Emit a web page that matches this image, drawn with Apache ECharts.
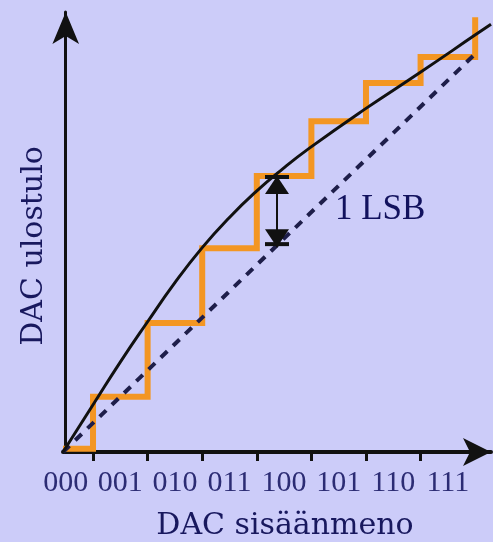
<!DOCTYPE html>
<html><head><meta charset="utf-8">
<script src="https://cdn.jsdelivr.net/npm/echarts@6/dist/echarts.min.js"></script>
<style>html,body{margin:0;padding:0;background:#ccccf9}#c{width:493px;height:542px}</style>
</head><body><div id="c"></div>
<script>
// x axis: input codes (code i sits at value i, transitions at i+0.5)
const codeLabels = ['000','001','010','011','100','101','110','111'];
const codePositions = [0,1,2,3,4,5,6,7];
const tickPositions = [0.5,1.5,2.5,3.5,4.5,5.5,6.5];
// actual (non-linear) DAC staircase output
const stepX = [-0.05,0.5,1.5,2.5,3.5,4.5,5.5,6.5,7.5];
const stepY = [0.06,1.04,2.43,3.84,5.20,6.23,6.95,7.44,8.19];
// smooth non-linear transfer curve
const curveX = [-0.05,0.50,0.99,1.49,2.00,2.50,2.99,3.49,3.98,4.47,5.48,6.49,7.49,7.79];
const curveY = [0.00,0.89,1.68,2.44,3.19,3.85,4.41,4.91,5.34,5.73,6.46,7.15,7.85,8.06];
// ideal linear transfer (dashed)
const idealX = [-0.05,7.5];
const idealY = [0,7.5];
// 1 LSB marker
const lsbX = [3.87,3.87];
const lsbY = [5.20,3.86];
const annotationText = ['1 LSB'];
const annotationPos = [5.76,4.56];
const xTitle = 'DAC sisäänmeno';
const yTitle = 'DAC ulostulo';

const pairs = (xs, ys) => xs.map((x, i) => [x, ys[i]]);
const chart = echarts.init(document.getElementById('c'));
chart.setOption({
  backgroundColor: '#ccccf9',
  animation: false,
  grid: {left: 63, right: 2, top: 12, bottom: 90, containLabel: false, outerBoundsMode: 'none'},
  xAxis: {
    type: 'value', min: -0.05, max: 7.79,
    name: xTitle, nameLocation: 'middle', nameGap: 59,
    nameTextStyle: {fontFamily: 'DejaVu Serif', fontSize: 30, color: '#18185e', padding: [0, 0, 0, 16]},
    axisLine: {show: true, lineStyle: {color: '#111', width: 4}, symbol: ['none','arrow'], symbolSize: [21, 28], symbolOffset: [0, 0]},
    axisTick: {show: true, customValues: tickPositions, length: 9, inside: false, lineStyle: {color: '#111', width: 3}},
    axisLabel: {show: true, customValues: codePositions, formatter: v => codeLabels[Math.round(v)], margin: 16,
      fontFamily: 'Liberation Serif', fontSize: 30, color: '#2c2c74'},
    splitLine: {show: false}
  },
  yAxis: {
    type: 'value', min: 0, max: 8.29,
    name: yTitle, nameLocation: 'middle', nameGap: 14, nameRotate: 90,
    nameTextStyle: {fontFamily: 'DejaVu Serif', fontSize: 30, color: '#18185e', padding: [0, 28, 0, 0]},
    axisLine: {show: true, lineStyle: {color: '#111', width: 3}, symbol: ['none','arrow'], symbolSize: [20, 32], symbolOffset: [0, 0]},
    axisTick: {show: false}, axisLabel: {show: false}, splitLine: {show: false}
  },
  series: [
    {type: 'line', step: 'end', data: pairs(stepX, stepY), showSymbol: false, z: 2,
     lineStyle: {color: '#f39623', width: 6, join: 'miter', cap: 'butt'}},
    {type: 'line', data: pairs(idealX, idealY), showSymbol: false, z: 3,
     lineStyle: {color: '#1e1e4a', width: 4, type: [9, 8]}},
    {type: 'line', smooth: 0.5, data: pairs(curveX, curveY), showSymbol: false, z: 4,
     lineStyle: {color: '#111', width: 3}},
    {type: 'line', z: 5, showSymbol: true, symbol: 'triangle', symbolSize: [24, 18],
     itemStyle: {color: '#111'}, lineStyle: {color: '#111', width: 2},
     data: [
       {value: [lsbX[0], lsbY[0]], symbolOffset: [0, 9]},
       {value: [lsbX[1], lsbY[1]], symbolRotate: 180, symbolOffset: [0, -9]}
     ]},
    {type: 'scatter', z: 5, symbol: 'rect', symbolSize: [24, 4], itemStyle: {color: '#111', opacity: 1},
     data: [
       {value: [lsbX[0], lsbY[0]], symbolOffset: [0, 1]},
       {value: [lsbX[1], lsbY[1]], symbolOffset: [0, -3]}
     ]},
    {type: 'scatter', z: 6, symbolSize: 1, itemStyle: {color: 'transparent', opacity: 1},
     data: [annotationPos],
     label: {show: true, position: 'inside', formatter: () => annotationText[0],
       fontFamily: 'Liberation Serif', fontSize: 35, color: '#12125e'}}
  ]
});
</script></body></html>
